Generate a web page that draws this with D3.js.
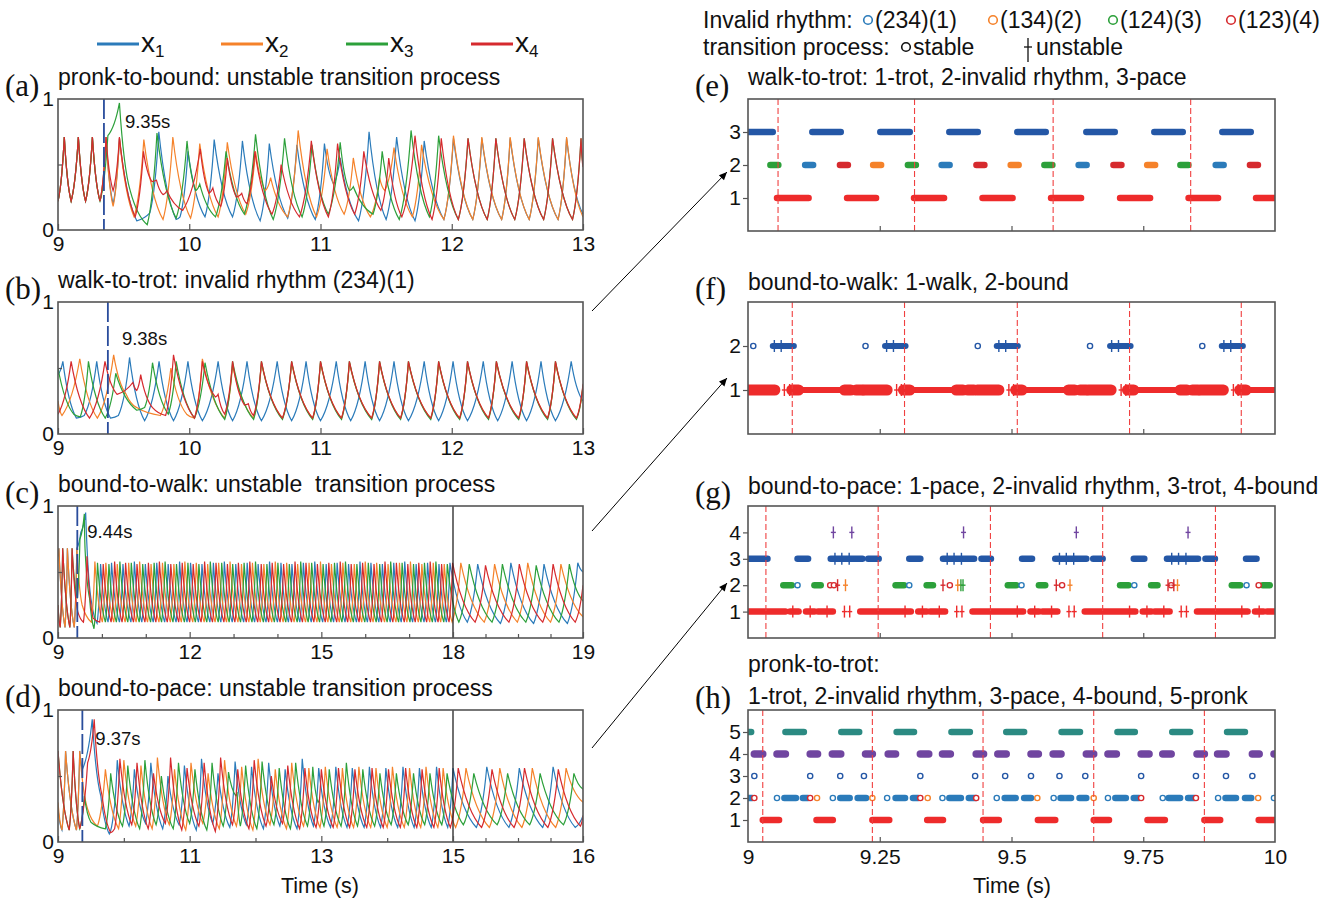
<!DOCTYPE html>
<html>
<head>
<meta charset="utf-8">
<script src="https://cdn.jsdelivr.net/npm/d3@7/dist/d3.min.js"></script>
<style>
  body { margin: 0; background: #fff; }
  svg text { font-family: "Liberation Sans", Arial, sans-serif; fill: #111; }
</style>
</head>
<body>
<svg id="chart" width="1343" height="903"></svg>
<script>
// ---------- data: oscillator outputs x1..x4, flat [t, v, t, v, ...] turning points ----------
var aPronk = [9.00,.22, 9.048,.71, 9.10,.22, 9.155,.71, 9.21,.22, 9.262,.71, 9.32,.22];
var a1 = [9.366,.71, 9.42,.20, 9.468,.70, 9.60,.07, 9.70,.13, 9.768,.75, 9.90,.08, 9.93,.10, 9.99,.60, 10.12,.10, 10.19,.69, 10.33,.10, 10.405,.68, 10.54,.07, 10.61,.66, 10.75,.09, 10.82,.65, 10.96,.08, 11.03,.66, 11.10,.35, 11.15,.55, 11.29,.07, 11.37,.75, 11.50,.08, 11.58,.71, 11.72,.07, 11.79,.68, 11.94,.08, 12.013,.70, 12.16,.08, 12.229,.70, 12.38,.08, 12.445,.70, 12.59,.08, 12.659,.70, 12.81,.08, 12.875,.70, 13.0,.12];
var a2 = [9.366,.71, 9.42,.18, 9.468,.70, 9.58,.10, 9.654,.69, 9.80,.08, 9.875,.71, 10.01,.09, 10.08,.66, 10.22,.10, 10.29,.67, 10.43,.12, 10.505,.60, 10.58,.30, 10.62,.40, 10.75,.10, 10.83,.76, 10.97,.10, 11.05,.62, 11.18,.12, 11.25,.55, 11.38,.10, 11.45,.40, 11.49,.30, 11.56,.63, 11.70,.10, 11.77,.65, 11.94,.08, 12.013,.72, 12.16,.08, 12.229,.71, 12.38,.08, 12.445,.71, 12.59,.08, 12.659,.71, 12.81,.08, 12.875,.71, 13.0,.10];
var a3 = [9.38,.72, 9.468,.97, 9.55,.30, 9.68,.04, 9.754,.74, 9.90,.09, 9.983,.68, 10.05,.30, 10.08,.35, 10.20,.10, 10.28,.60, 10.42,.12, 10.505,.73, 10.64,.08, 10.726,.70, 10.86,.10, 10.935,.65, 11.06,.12, 11.15,.67, 11.22,.30, 11.25,.33, 11.40,.12, 11.47,.60, 11.60,.08, 11.69,.76, 11.83,.10, 11.90,.72, 12.05,.08, 12.124,.70, 12.27,.08, 12.336,.70, 12.48,.08, 12.552,.70, 12.70,.08, 12.768,.70, 12.92,.08, 12.985,.70, 13.0,.50];
var a4 = [9.366,.71, 9.42,.30, 9.468,.71, 9.588,.10, 9.651,.60, 9.715,.37, 9.75,.38, 9.80,.27, 9.83,.30, 9.95,.15, 10.084,.62, 10.15,.28, 10.18,.32, 10.24,.18, 10.29,.55, 10.36,.25, 10.40,.28, 10.44,.20, 10.50,.60, 10.63,.12, 10.70,.50, 10.84,.10, 10.93,.68, 11.06,.10, 11.13,.66, 11.26,.12, 11.33,.60, 11.46,.15, 11.52,.55, 11.62,.10, 11.72,.72, 11.85,.08, 11.92,.70, 12.05,.08, 12.124,.70, 12.27,.08, 12.336,.70, 12.48,.08, 12.552,.70, 12.70,.08, 12.768,.70, 12.92,.08, 12.985,.70, 13.0,.48];

var b1 = [9.0,.45, 9.037,.55, 9.14,.12, 9.20,.14, 9.295,.55, 9.40,.12, 9.46,.14, 9.545,.58, 9.66,.10, 9.77,.55, 9.88,.10, 9.99,.55, 10.10,.10, 10.22,.55, 10.33,.10, 10.44,.55, 10.55,.10, 10.67,.55, 10.78,.10, 10.89,.55, 11.00,.10, 11.12,.55, 11.23,.10, 11.34,.55, 11.45,.10, 11.56,.55, 11.67,.10, 11.79,.55, 11.90,.10, 12.01,.55, 12.12,.10, 12.24,.55, 12.35,.10, 12.46,.55, 12.57,.10, 12.68,.55, 12.79,.10, 12.91,.55, 13.0,.25];
var b2 = [9.0,.25, 9.03,.14, 9.166,.57, 9.30,.12, 9.424,.60, 9.52,.30, 9.60,.20, 9.78,.14, 9.86,.50, 9.98,.15, 10.04,.12, 10.10,.57, 10.27,.12, 10.33,.52, 10.49,.12, 10.55,.54, 10.71,.12, 10.78,.54, 10.94,.12, 11.00,.54, 11.16,.12, 11.22,.54, 11.39,.12, 11.45,.54, 11.61,.12, 11.67,.54, 11.84,.12, 11.90,.54, 12.06,.12, 12.12,.54, 12.28,.12, 12.34,.54, 12.51,.12, 12.57,.54, 12.73,.12, 12.79,.54, 12.95,.12, 13.0,.36];
var b3 = [9.0,.50, 9.12,.15, 9.17,.13, 9.232,.55, 9.36,.12, 9.44,.46, 9.60,.18, 9.66,.20, 9.72,.54, 9.84,.15, 9.90,.55, 10.04,.12, 10.12,.54, 10.27,.11, 10.33,.55, 10.49,.11, 10.55,.55, 10.71,.11, 10.78,.55, 10.94,.11, 11.00,.55, 11.16,.11, 11.22,.55, 11.39,.11, 11.45,.55, 11.61,.11, 11.67,.55, 11.84,.11, 11.90,.55, 12.06,.11, 12.12,.55, 12.28,.11, 12.34,.55, 12.51,.11, 12.57,.55, 12.73,.11, 12.79,.55, 12.95,.11, 13.0,.37];
var b4 = [9.0,.15, 9.10,.55, 9.24,.12, 9.358,.55, 9.45,.30, 9.57,.39, 9.60,.33, 9.63,.45, 9.72,.20, 9.82,.14, 9.88,.60, 10.04,.12, 10.10,.55, 10.20,.28, 10.22,.30, 10.27,.15, 10.33,.55, 10.42,.22, 10.45,.23, 10.49,.14, 10.55,.55, 10.71,.12, 10.78,.55, 10.94,.12, 11.00,.55, 11.16,.12, 11.22,.55, 11.39,.12, 11.45,.55, 11.61,.12, 11.67,.55, 11.84,.12, 11.90,.55, 12.06,.12, 12.12,.55, 12.28,.12, 12.34,.55, 12.51,.12, 12.57,.55, 12.73,.12, 12.79,.55, 12.95,.12, 13.0,.38];

var c1 = [9.0,.62, 9.02,.68, 9.16,.08, 9.214,.68, 9.37,.08, 9.43,.68, 9.52,.80, 9.63,.95, 9.75,.30, 9.89,.11, 9.97,.56, 10.14,.12, 10.22,.57, 10.40,.12, 10.48,.56, 10.66,.12, 10.74,.58, 10.91,.12, 10.99,.56, 11.17,.12, 11.25,.57, 11.43,.12, 11.51,.56, 11.69,.12, 11.77,.58, 11.94,.12, 12.02,.57, 12.20,.12, 12.28,.56, 12.46,.12, 12.54,.57, 12.71,.12, 12.79,.58, 12.97,.12, 13.05,.56, 13.23,.12, 13.31,.57, 13.48,.12, 13.56,.56, 13.74,.12, 13.82,.58, 14.00,.12, 14.08,.57, 14.25,.12, 14.33,.56, 14.51,.12, 14.59,.57, 14.77,.12, 14.85,.58, 15.03,.12, 15.11,.56, 15.28,.12, 15.36,.57, 15.54,.12, 15.62,.56, 15.80,.12, 15.88,.58, 16.05,.12, 16.13,.57, 16.31,.12, 16.39,.56, 16.57,.12, 16.65,.57, 16.82,.12, 16.90,.58, 17.08,.12, 17.16,.56, 17.34,.12, 17.42,.57, 17.60,.12, 17.68,.56, 17.85,.12, 17.93,.57, 18.11,.12, 18.19,.56, 18.365,.11, 18.445,.57, 18.62,.11, 18.70,.56, 18.88,.11, 18.96,.57, 19.0,.50];
var c2 = [9.0,.62, 9.02,.68, 9.16,.08, 9.214,.68, 9.37,.08, 9.43,.68, 9.55,.25, 9.76,.12, 9.84,.58, 10.01,.12, 10.09,.57, 10.27,.12, 10.35,.56, 10.53,.12, 10.61,.57, 10.78,.12, 10.86,.58, 11.04,.12, 11.12,.56, 11.30,.12, 11.38,.57, 11.56,.12, 11.64,.56, 11.81,.12, 11.89,.58, 12.07,.12, 12.15,.57, 12.33,.12, 12.41,.56, 12.58,.12, 12.66,.57, 12.84,.12, 12.92,.58, 13.10,.12, 13.18,.56, 13.35,.12, 13.43,.57, 13.61,.12, 13.69,.56, 13.87,.12, 13.95,.58, 14.13,.12, 14.21,.57, 14.38,.12, 14.46,.56, 14.64,.12, 14.72,.57, 14.90,.12, 14.98,.58, 15.15,.12, 15.23,.56, 15.41,.12, 15.49,.57, 15.67,.12, 15.75,.56, 15.92,.12, 16.00,.58, 16.18,.12, 16.26,.57, 16.44,.12, 16.52,.56, 16.70,.12, 16.78,.57, 16.95,.12, 17.03,.58, 17.21,.12, 17.29,.56, 17.47,.12, 17.55,.57, 17.72,.12, 17.80,.56, 17.98,.12, 18.06,.57, 18.24,.12, 18.32,.56, 18.495,.12, 18.575,.57, 18.75,.12, 18.83,.56, 19.0,.16];
var c3 = [9.0,.25, 9.05,.08, 9.107,.68, 9.27,.08, 9.321,.68, 9.44,.30, 9.50,.75, 9.60,.94, 9.62,.65, 9.72,.30, 9.82,.07, 9.90,.57, 10.08,.12, 10.16,.56, 10.33,.12, 10.41,.58, 10.59,.12, 10.67,.57, 10.85,.12, 10.93,.56, 11.11,.12, 11.19,.57, 11.36,.12, 11.44,.58, 11.62,.12, 11.70,.56, 11.88,.12, 11.96,.57, 12.13,.12, 12.21,.56, 12.39,.12, 12.47,.58, 12.65,.12, 12.73,.57, 12.90,.12, 12.98,.56, 13.16,.12, 13.24,.57, 13.42,.12, 13.50,.58, 13.68,.12, 13.76,.56, 13.93,.12, 14.01,.57, 14.19,.12, 14.27,.56, 14.45,.12, 14.53,.58, 14.70,.12, 14.78,.57, 14.96,.12, 15.04,.56, 15.22,.12, 15.30,.57, 15.47,.12, 15.55,.58, 15.73,.12, 15.81,.56, 15.99,.12, 16.07,.57, 16.25,.12, 16.33,.56, 16.50,.12, 16.58,.58, 16.76,.12, 16.84,.57, 17.02,.12, 17.10,.56, 17.27,.12, 17.35,.57, 17.53,.12, 17.61,.58, 17.79,.12, 17.87,.56, 18.045,.12, 18.125,.56, 18.30,.12, 18.38,.56, 18.56,.12, 18.64,.55, 18.815,.12, 18.895,.56, 19.0,.28];
var c4 = [9.0,.25, 9.05,.08, 9.107,.68, 9.27,.08, 9.321,.68, 9.45,.20, 9.58,.12, 9.66,.62, 9.80,.15, 9.95,.12, 10.03,.56, 10.21,.12, 10.29,.58, 10.46,.12, 10.54,.57, 10.72,.12, 10.80,.56, 10.98,.12, 11.06,.57, 11.23,.12, 11.31,.58, 11.49,.12, 11.57,.56, 11.75,.12, 11.83,.57, 12.00,.12, 12.08,.56, 12.26,.12, 12.34,.58, 12.52,.12, 12.60,.57, 12.78,.12, 12.86,.56, 13.03,.12, 13.11,.57, 13.29,.12, 13.37,.58, 13.55,.12, 13.63,.56, 13.80,.12, 13.88,.57, 14.06,.12, 14.14,.56, 14.32,.12, 14.40,.58, 14.57,.12, 14.65,.57, 14.83,.12, 14.91,.56, 15.09,.12, 15.17,.57, 15.35,.12, 15.43,.58, 15.60,.12, 15.68,.56, 15.86,.12, 15.94,.57, 16.12,.12, 16.20,.56, 16.37,.12, 16.45,.58, 16.63,.12, 16.71,.57, 16.89,.12, 16.97,.56, 17.14,.12, 17.22,.57, 17.40,.12, 17.48,.58, 17.66,.12, 17.74,.56, 17.91,.12, 17.99,.57, 18.17,.12, 18.25,.55, 18.43,.12, 18.51,.56, 18.69,.12, 18.77,.56, 18.94,.12, 19.0,.40];

var dX1 = [9.0,.25, 9.06,.09, 9.115,.69, 9.28,.09, 9.33,.69, 9.37,.55, 9.52,.93, 9.65,.35, 9.78,.06, 9.84,.20, 9.90,.62, 10.08,.12, 10.16,.55, 10.33,.14, 10.41,.60, 10.59,.10, 10.67,.50, 10.84,.13, 10.92,.58, 11.10,.09, 11.18,.63, 11.35,.14, 11.43,.52, 11.61,.11, 11.69,.61, 11.86,.13, 11.94,.57, 12.12,.10, 12.20,.60, 12.37,.12, 12.45,.55, 12.63,.10, 12.71,.63, 12.88,.12, 12.96,.56, 13.14,.11, 13.22,.57, 13.39,.11, 13.47,.56, 13.65,.11, 13.73,.57, 13.90,.11, 13.98,.56, 14.16,.11, 14.24,.57, 14.41,.11, 14.49,.56, 14.67,.11, 14.75,.57, 14.92,.11, 15.00,.56, 15.18,.11, 15.26,.57, 15.43,.11, 15.51,.56, 15.69,.11, 15.77,.57, 15.94,.11, 16.0,.20];
var dX2 = [9.0,.30, 9.06,.09, 9.115,.69, 9.28,.09, 9.33,.69, 9.45,.25, 9.60,.12, 9.72,.55, 9.92,.10, 10.00,.62, 10.18,.12, 10.26,.58, 10.43,.10, 10.51,.64, 10.69,.13, 10.77,.55, 10.94,.09, 11.02,.60, 11.20,.14, 11.28,.52, 11.45,.10, 11.53,.62, 11.71,.12, 11.79,.57, 11.96,.09, 12.04,.63, 12.22,.13, 12.30,.55, 12.47,.10, 12.55,.60, 12.73,.12, 12.81,.56, 12.98,.11, 13.06,.57, 13.24,.11, 13.32,.56, 13.49,.11, 13.57,.57, 13.75,.11, 13.83,.56, 14.00,.11, 14.08,.57, 14.26,.11, 14.34,.56, 14.51,.11, 14.59,.57, 14.77,.11, 14.85,.56, 15.02,.11, 15.10,.56, 15.28,.11, 15.36,.56, 15.53,.11, 15.61,.56, 15.79,.11, 15.87,.56, 16.0,.30];
var dX3 = [9.0,.69, 9.17,.09, 9.23,.69, 9.33,.10, 9.40,.35, 9.50,.15, 9.72,.10, 9.80,.52, 9.98,.12, 10.06,.58, 10.24,.10, 10.32,.62, 10.49,.13, 10.57,.50, 10.75,.10, 10.83,.60, 11.00,.14, 11.08,.55, 11.26,.09, 11.34,.60, 11.51,.12, 11.59,.53, 11.70,.35, 11.72,.38, 11.77,.12, 11.85,.58, 12.02,.10, 12.10,.61, 12.28,.13, 12.36,.56, 12.53,.10, 12.61,.60, 12.79,.12, 12.87,.57, 12.95,.30, 12.97,.32, 13.04,.12, 13.12,.55, 13.30,.12, 13.38,.60, 13.55,.12, 13.63,.55, 13.81,.12, 13.89,.52, 14.06,.13, 14.14,.52, 14.32,.13, 14.40,.52, 14.57,.13, 14.65,.52, 14.83,.13, 14.91,.52, 15.08,.13, 15.16,.52, 15.34,.13, 15.42,.52, 15.59,.13, 15.67,.52, 15.85,.13, 15.93,.52, 16.0,.40];
var dX4 = [9.0,.69, 9.17,.09, 9.23,.69, 9.33,.10, 9.45,.60, 9.55,.93, 9.67,.35, 9.80,.07, 9.86,.10, 9.94,.63, 10.12,.13, 10.20,.60, 10.37,.10, 10.45,.52, 10.63,.14, 10.71,.64, 10.88,.09, 10.96,.56, 11.14,.12, 11.22,.60, 11.39,.08, 11.47,.64, 11.65,.13, 11.73,.55, 11.90,.10, 11.98,.62, 12.16,.12, 12.24,.50, 12.41,.14, 12.49,.58, 12.67,.10, 12.75,.56, 12.92,.11, 13.00,.55, 13.18,.11, 13.26,.56, 13.43,.11, 13.51,.55, 13.69,.11, 13.77,.56, 13.94,.11, 14.02,.55, 14.20,.11, 14.28,.56, 14.45,.11, 14.53,.55, 14.71,.11, 14.79,.56, 14.96,.11, 15.04,.56, 15.22,.11, 15.30,.55, 15.47,.11, 15.55,.56, 15.73,.11, 15.81,.55, 15.98,.12, 16.0,.20];

// switch times (s)
var switchTimes = [9.35, 9.38, 9.44, 9.37];

// ---------- data: gait classification panels (time intervals / instants, level) ----------
var eSwitch = [9.057, 9.316, 9.579, 9.840];
var ePace = [[9.000,9.047],[9.122,9.176],[9.251,9.307],[9.382,9.436],[9.511,9.565],[9.642,9.696],[9.771,9.825],[9.900,9.954]];
var eTrot = [[9.055,9.115],[9.188,9.243],[9.315,9.372],[9.445,9.502],[9.575,9.632],[9.706,9.763],[9.836,9.892],[9.964,10.0]];
var eInv1 = [9.116, 9.375, 9.635, 9.895];
var eInv2 = [9.245, 9.506, 9.765];
var eInv3 = [9.050, 9.311, 9.570, 9.828];
var eInv4 = [9.182, 9.441, 9.701, 9.960];

var fSwitch = [9.084, 9.297, 9.511, 9.724, 9.936];
var fBoundRing = [9.010, 9.223, 9.436, 9.649, 9.862];
var fBound = [[9.047,9.087],[9.260,9.299],[9.472,9.512],[9.687,9.726],[9.899,9.939]];
var fBoundTick = [9.050, 9.063, 9.263, 9.276, 9.476, 9.489, 9.690, 9.703, 9.903, 9.916];
var fWalk = [[9.0,9.051],[9.083,9.264],[9.295,9.477],[9.508,9.689],[9.720,9.902],[9.933,10.0]];
var fWalkBlock = [[9.0,9.051],[9.083,9.096],[9.183,9.195],[9.205,9.217],[9.220,9.264],[9.295,9.307],[9.395,9.408],[9.417,9.429],[9.435,9.476],[9.508,9.520],[9.608,9.620],[9.630,9.642],[9.646,9.689],[9.720,9.732],[9.820,9.833],[9.843,9.854],[9.858,9.902],[9.933,9.945]];
var fWalkTick = [9.069, 9.079, 9.282, 9.291, 9.495, 9.504, 9.708, 9.717, 9.921, 9.930];

var gSwitch = [9.034, 9.247, 9.460, 9.673, 9.887];
var gBoundTick = [9.162, 9.197, 9.409, 9.623, 9.835];
var gTrot = [[9.0,9.037],[9.094,9.114],[9.157,9.217],[9.228,9.248],[9.306,9.327],[9.370,9.429],[9.443,9.461],[9.520,9.539],[9.583,9.642],[9.655,9.673],[9.732,9.752],[9.795,9.854],[9.868,9.886],[9.945,9.965]];
var gTrotTick = [9.165, 9.178, 9.192, 9.378, 9.391, 9.405, 9.591, 9.604, 9.618, 9.804, 9.817, 9.831];
var gInv3 = [[9.067,9.083],[9.126,9.138],[9.280,9.296],[9.339,9.351],[9.493,9.509],[9.552,9.564],[9.706,9.722],[9.765,9.777],[9.918,9.934],[9.977,9.990]];
var gInv1Ring = [9.094, 9.306, 9.519, 9.733, 9.946];
var gInv4Ring = [9.156, 9.163, 9.383, 9.596, 9.803, 9.969];
var gInv4Tick = [9.170, 9.370, 9.585, 9.797, 9.808];
var gInv2Tick = [9.185, 9.398, 9.611, 9.815];
var gInv3Tick = [9.404, 9.408];
var gPace = [[9.0,9.071],[9.080,9.096],[9.110,9.126],[9.133,9.161],[9.213,9.309],[9.323,9.339],[9.346,9.374],[9.426,9.522],[9.536,9.552],[9.559,9.587],[9.639,9.735],[9.749,9.765],[9.772,9.800],[9.852,9.948],[9.962,9.978],[9.985,10.0]];
var gPaceTick = [9.085, 9.118, 9.150, 9.183, 9.193, 9.298, 9.331, 9.363, 9.396, 9.406, 9.511, 9.544, 9.576, 9.609, 9.619, 9.724, 9.757, 9.789, 9.822, 9.832, 9.937, 9.970];

var hSwitch = [9.028, 9.236, 9.446, 9.656, 9.866];
var hPronk = [[9.0,9.006],[9.071,9.106],[9.177,9.211],[9.282,9.315],[9.386,9.421],[9.490,9.524],[9.595,9.630],[9.701,9.734],[9.805,9.839],[9.909,9.943]];
var hBound = [[9.012,9.028],[9.055,9.071],[9.118,9.132],[9.160,9.176],[9.223,9.236],[9.266,9.280],[9.327,9.343],[9.369,9.384],[9.433,9.447],[9.474,9.490],[9.537,9.551],[9.579,9.594],[9.642,9.656],[9.683,9.699],[9.746,9.761],[9.787,9.803],[9.852,9.866],[9.891,9.907],[9.957,9.970],[9.998,10.0]];
var hPaceRing = [9.012, 9.118, 9.175, 9.220, 9.327, 9.431, 9.488, 9.537, 9.591, 9.640, 9.746, 9.850, 9.907, 9.957];
var hInv1 = [[9.0,9.008],[9.069,9.091],[9.104,9.114],[9.175,9.193],[9.208,9.224],[9.280,9.298],[9.313,9.323],[9.382,9.404],[9.419,9.432],[9.487,9.508],[9.524,9.537],[9.593,9.613],[9.629,9.642],[9.697,9.717],[9.732,9.742],[9.798,9.820],[9.835,9.847],[9.906,9.926],[9.943,9.955]];
var hInv1Ring = [9.055, 9.161, 9.264, 9.369, 9.472, 9.580, 9.683, 9.787, 9.892, 9.998];
var hInv4Ring = [9.012, 9.118, 9.327, 9.433, 9.746, 9.850];
var hInv2Ring = [9.131, 9.236, 9.341, 9.549, 9.656, 9.968];
var hTrot = [[9.028,9.059],[9.130,9.161],[9.236,9.268],[9.340,9.370],[9.446,9.476],[9.550,9.583],[9.656,9.685],[9.758,9.791],[9.866,9.896],[9.969,10.0]];

// ---------- styling ----------
var COLS = ['#2b7bba', '#f5822a', '#2ca03a', '#d62a2e'];
var DARKBLUE = '#2457a6', TRED = '#ee2b2b', TEAL = '#2b8a82', PURPLE = '#7045a0';
var FRAME = '#555';

var svg = d3.select('#chart');
var defs = svg.append('defs');

function pairs(a) {
  var r = [];
  for (var i = 0; i < a.length; i += 2) r.push([a[i], a[i + 1]]);
  return r;
}

// curve through turning points: sharp peaks, gently concave rise/decay
function FinCurve(context) { this._context = context; }
FinCurve.prototype = {
  areaStart: function() {}, areaEnd: function() {},
  lineStart: function() { this._point = 0; },
  lineEnd: function() {},
  point: function(x, y) {
    x = +x; y = +y;
    if (this._point === 0) {
      this._point = 1;
      this._context.moveTo(x, y);
    } else {
      var hx = y > this._y0 ? this._x0 : x;
      var lx = y > this._y0 ? x : this._x0;
      var ly = Math.max(y, this._y0);
      var cx = hx + 0.3 * (lx - hx), mx = (x + this._x0) / 2, my = (y + this._y0) / 2;
      this._context.quadraticCurveTo(mx + 0.5 * (cx - mx), my + 0.5 * (ly - my), x, y);
    }
    this._x0 = x; this._y0 = y;
  }
};
function finCurve(context) { return new FinCurve(context); }

function styleAxis(g, size) {
  g.select('.domain').remove();
  g.selectAll('line').attr('stroke', FRAME).attr('stroke-width', 1.2);
  g.selectAll('text').attr('font-family', '"Liberation Sans", Arial, sans-serif').attr('font-size', size).attr('fill', '#111');
}

// ---------- left panels: time series ----------
function leftPanel(p) {
  var x = d3.scaleLinear().domain(p.dom).range(p.dom.length === 3 ? [58, 453, 583] : [58, 583]);
  var y = d3.scaleLinear().domain([0, 1]).range([p.bottom, p.top]);
  var g = svg.append('g');

  defs.append('clipPath').attr('id', 'clip' + p.key)
    .append('rect').attr('x', 58).attr('y', p.top).attr('width', 525).attr('height', p.bottom - p.top);

  var line = d3.line().curve(finCurve).x(function(d){ return x(d[0]); }).y(function(d){ return y(d[1]); });
  var plot = g.append('g').attr('clip-path', 'url(#clip' + p.key + ')');
  p.series.forEach(function(s, i){
    plot.append('path').attr('d', line(pairs(s)))
      .attr('fill', 'none').attr('stroke', COLS[i]).attr('stroke-width', 1.2);
  });

  if (p.brk) {
    g.append('line').attr('x1', x(p.brk)).attr('x2', x(p.brk)).attr('y1', p.top).attr('y2', p.bottom)
      .attr('stroke', '#222').attr('stroke-width', 1.3);
  }

  // switching instant
  var sx = x(p.sw);
  g.append('line').attr('x1', sx).attr('x2', sx).attr('y1', p.top).attr('y2', p.bottom)
    .attr('stroke', '#2a4d9c').attr('stroke-width', 1.8).attr('stroke-dasharray', '20,4');
  g.append('text').attr('x', sx + p.lab[0]).attr('y', p.top + p.lab[1]).attr('font-size', 18.5)
    .text(d3.format('.2f')(p.sw) + 's');

  g.append('rect').attr('x', 58).attr('y', p.top).attr('width', 525).attr('height', p.bottom - p.top)
    .attr('fill', 'none').attr('stroke', FRAME).attr('stroke-width', 1.6);

  var xa = g.append('g').attr('transform', 'translate(0,' + p.bottom + ')')
    .call(d3.axisBottom(x).tickValues(p.major).tickSize(-6).tickPadding(6).tickFormat(d3.format('d')));
  styleAxis(xa, 21);
  if (p.minor) {
    var xm = g.append('g').attr('transform', 'translate(0,' + p.bottom + ')')
      .call(d3.axisBottom(x).tickValues(p.minor).tickSize(-4).tickFormat(''));
    styleAxis(xm, 21);
  }
  var ya = g.append('g').attr('transform', 'translate(58,0)')
    .call(d3.axisLeft(y).tickValues([0, 1]).tickSize(0).tickPadding(4).tickFormat(d3.format('d')));
  styleAxis(ya, 21);
  var ym = g.append('g').attr('transform', 'translate(58,0)')
    .call(d3.axisLeft(y).tickValues([0.5]).tickSize(-4).tickFormat(''));
  styleAxis(ym, 21);

  svg.append('text').attr('x', 5).attr('y', p.top - 3).attr('font-size', 31)
    .style('font-family', '"Liberation Serif", "Times New Roman", serif').text(p.letter);
  svg.append('text').attr('x', 58).attr('y', p.top - 14).attr('font-size', 23)
    .style('white-space', 'pre').text(p.title);
}

leftPanel({key: 'a', letter: '(a)', title: 'pronk-to-bound: unstable transition process', top: 99, bottom: 230,
  dom: [9, 13], series: [aPronk.concat(a1), aPronk.concat(a2), aPronk.concat(a3), aPronk.concat(a4)],
  sw: switchTimes[0], lab: [21, 29], major: [9, 10, 11, 12, 13]});
leftPanel({key: 'b', letter: '(b)', title: 'walk-to-trot: invalid rhythm (234)(1)', top: 302, bottom: 434,
  dom: [9, 13], series: [b1, b2, b3, b4],
  sw: switchTimes[1], lab: [14, 43], major: [9, 10, 11, 12, 13]});
leftPanel({key: 'c', letter: '(c)', title: 'bound-to-walk: unstable  transition process', top: 506, bottom: 638,
  dom: [9, 18, 19], series: [c1, c2, c3, c4], brk: 18,
  sw: switchTimes[2], lab: [10, 32], major: [9, 12, 15, 18, 19], minor: [10, 11, 13, 14, 16, 17, 18.25, 18.5, 18.75]});
leftPanel({key: 'd', letter: '(d)', title: 'bound-to-pace: unstable transition process', top: 710, bottom: 842,
  dom: [9, 15, 16], series: [dX1, dX2, dX3, dX4], brk: 15,
  sw: switchTimes[3], lab: [13, 35], major: [9, 11, 13, 15, 16], minor: [10, 12, 14, 15.25, 15.5, 15.75]});

// ---------- right panels: gait classification ----------
function rightPanel(p) {
  var x = d3.scaleLinear().domain([9, 10]).range([748, 1275]);
  var y = d3.scaleLinear().domain([0, p.levels]).range([p.bottom, p.top]);
  var g = svg.append('g');
  defs.append('clipPath').attr('id', 'clip' + p.key)
    .append('rect').attr('x', 748).attr('y', p.top).attr('width', 527).attr('height', p.bottom - p.top);
  var plot = g.append('g').attr('clip-path', 'url(#clip' + p.key + ')');

  p.draw(plot, x, y);

  p.sw.forEach(function(t){
    plot.append('line').attr('x1', x(t)).attr('x2', x(t)).attr('y1', p.top).attr('y2', p.bottom)
      .attr('stroke', '#f04040').attr('stroke-width', 1.1).attr('stroke-dasharray', '6,3');
  });

  g.append('rect').attr('x', 748).attr('y', p.top).attr('width', 527).attr('height', p.bottom - p.top)
    .attr('fill', 'none').attr('stroke', FRAME).attr('stroke-width', 1.6);

  var xa = g.append('g').attr('transform', 'translate(0,' + p.bottom + ')')
    .call(d3.axisBottom(x).tickValues([9.25, 9.5, 9.75]).tickSize(-5).tickFormat(''));
  styleAxis(xa, 21);
  if (p.labels) {
    var xl = g.append('g').attr('transform', 'translate(0,' + p.bottom + ')')
      .call(d3.axisBottom(x).tickValues([9, 9.25, 9.5, 9.75, 10]).tickSize(0).tickPadding(7).tickFormat(function(d){ return String(d); }));
    styleAxis(xl, 21);
  }
  var ya = g.append('g').attr('transform', 'translate(748,0)')
    .call(d3.axisLeft(y).tickValues(d3.range(1, p.levels)).tickSize(5).tickPadding(2).tickFormat(d3.format('d')));
  styleAxis(ya, 21);

  svg.append('text').attr('x', 695).attr('y', p.letterY).attr('font-size', 31)
    .style('font-family', '"Liberation Serif", "Times New Roman", serif').text(p.letter);
  p.title.forEach(function(t, i){
    svg.append('text').attr('x', 748).attr('y', p.titleY[i]).attr('font-size', 23).text(t);
  });
}

function segs(g, x, y, data, lvl, col, w) {
  g.selectAll(null).data(data).enter().append('line')
    .attr('x1', function(d){ return x(d[0]); }).attr('x2', function(d){ return x(d[1]); })
    .attr('y1', y(lvl)).attr('y2', y(lvl))
    .attr('stroke', col).attr('stroke-width', w).attr('stroke-linecap', 'round');
}
function dots(g, x, y, data, lvl, col, w) {
  g.selectAll(null).data(data).enter().append('line')
    .attr('x1', function(d){ return x(d) - 4; }).attr('x2', function(d){ return x(d) + 4; })
    .attr('y1', y(lvl)).attr('y2', y(lvl))
    .attr('stroke', col).attr('stroke-width', w).attr('stroke-linecap', 'round');
}
function rings(g, x, y, data, lvl, col) {
  g.selectAll(null).data(data).enter().append('circle')
    .attr('cx', function(d){ return x(d); }).attr('cy', y(lvl)).attr('r', 2.6)
    .attr('fill', '#fff').attr('stroke', col).attr('stroke-width', 1.4);
}
function crosses(g, x, y, data, lvl, col, h) {
  var m = g.selectAll(null).data(data).enter().append('g')
    .attr('transform', function(d){ return 'translate(' + x(d) + ',' + y(lvl) + ')'; });
  m.append('line').attr('y1', -h / 2).attr('y2', h / 2).attr('stroke', col).attr('stroke-width', 1.4);
  m.append('line').attr('x1', -2.5).attr('x2', 2.5).attr('stroke', col).attr('stroke-width', 1.4);
}

rightPanel({key: 'e', letter: '(e)', letterY: 96, title: ['walk-to-trot: 1-trot, 2-invalid rhythm, 3-pace'], titleY: [85],
  top: 99, bottom: 231, levels: 4, sw: eSwitch,
  draw: function(g, x, y){
    segs(g, x, y, ePace, 3, DARKBLUE, 6.5);
    dots(g, x, y, eInv1, 2, COLS[0], 6.5);
    dots(g, x, y, eInv2, 2, COLS[1], 6.5);
    dots(g, x, y, eInv3, 2, COLS[2], 6.5);
    dots(g, x, y, eInv4, 2, COLS[3], 6.5);
    segs(g, x, y, eTrot, 1, TRED, 6.5);
  }});

rightPanel({key: 'f', letter: '(f)', letterY: 299, title: ['bound-to-walk: 1-walk, 2-bound'], titleY: [290],
  top: 302, bottom: 434, levels: 3, sw: fSwitch,
  draw: function(g, x, y){
    rings(g, x, y, fBoundRing, 2, DARKBLUE);
    segs(g, x, y, fBound, 2, DARKBLUE, 6);
    crosses(g, x, y, fBoundTick, 2, DARKBLUE, 12);
    segs(g, x, y, fWalk, 1, TRED, 6);
    segs(g, x, y, fWalkBlock, 1, TRED, 11);
    crosses(g, x, y, fWalkTick, 1, TRED, 12);
  }});

rightPanel({key: 'g', letter: '(g)', letterY: 503, title: ['bound-to-pace: 1-pace, 2-invalid rhythm, 3-trot, 4-bound'], titleY: [494],
  top: 506, bottom: 638, levels: 5, sw: gSwitch,
  draw: function(g, x, y){
    crosses(g, x, y, gBoundTick, 4, PURPLE, 12);
    segs(g, x, y, gTrot, 3, DARKBLUE, 6.5);
    crosses(g, x, y, gTrotTick, 3, DARKBLUE, 12);
    segs(g, x, y, gInv3, 2, COLS[2], 6.5);
    rings(g, x, y, gInv1Ring, 2, COLS[0]);
    rings(g, x, y, gInv4Ring, 2, COLS[3]);
    crosses(g, x, y, gInv3Tick, 2, COLS[2], 12);
    crosses(g, x, y, gInv4Tick, 2, COLS[3], 12);
    crosses(g, x, y, gInv2Tick, 2, COLS[1], 12);
    segs(g, x, y, gPace, 1, TRED, 6.5);
    crosses(g, x, y, gPaceTick, 1, TRED, 12);
  }});

rightPanel({key: 'h', letter: '(h)', letterY: 708, title: ['pronk-to-trot:', '1-trot, 2-invalid rhythm, 3-pace, 4-bound, 5-pronk'], titleY: [672, 704],
  top: 710, bottom: 842, levels: 6, sw: hSwitch, labels: true,
  draw: function(g, x, y){
    segs(g, x, y, hPronk, 5, TEAL, 6.5);
    segs(g, x, y, hBound, 4, PURPLE, 7.5);
    rings(g, x, y, hPaceRing, 3, DARKBLUE);
    segs(g, x, y, hInv1, 2, COLS[0], 6.5);
    rings(g, x, y, hInv1Ring, 2, COLS[0]);
    rings(g, x, y, hInv4Ring, 2, COLS[3]);
    rings(g, x, y, hInv2Ring, 2, COLS[1]);
    segs(g, x, y, hTrot, 1, TRED, 6.5);
  }});

// ---------- legends ----------
var legX = [97, 221, 346, 471];
COLS.forEach(function(c, i){
  svg.append('line').attr('x1', legX[i]).attr('x2', legX[i] + 42).attr('y1', 44).attr('y2', 44)
    .attr('stroke', c).attr('stroke-width', 3);
  var t = svg.append('text').attr('x', legX[i] + 44).attr('y', 52).attr('font-size', 28);
  t.append('tspan').text('x');
  t.append('tspan').attr('font-size', 17).attr('dy', 5).text(i + 1);
});

var invLabels = ['(234)(1)', '(134)(2)', '(124)(3)', '(123)(4)'];
var invX = [868, 993, 1113, 1231];
svg.append('text').attr('x', 703).attr('y', 28).attr('font-size', 23).text('Invalid rhythm:');
invLabels.forEach(function(l, i){
  svg.append('circle').attr('cx', invX[i]).attr('cy', 20).attr('r', 4.3)
    .attr('fill', 'none').attr('stroke', COLS[i]).attr('stroke-width', 1.6);
  svg.append('text').attr('x', invX[i] + 7).attr('y', 28).attr('font-size', 23).text(l);
});
svg.append('text').attr('x', 703).attr('y', 55).attr('font-size', 23).text('transition process:');
svg.append('circle').attr('cx', 906).attr('cy', 47).attr('r', 4.3)
  .attr('fill', 'none').attr('stroke', '#111').attr('stroke-width', 1.6);
svg.append('text').attr('x', 913).attr('y', 55).attr('font-size', 23).text('stable');
svg.append('line').attr('x1', 1028).attr('x2', 1028).attr('y1', 38).attr('y2', 62).attr('stroke', '#111').attr('stroke-width', 1.3);
svg.append('line').attr('x1', 1024).attr('x2', 1032).attr('y1', 47).attr('y2', 47).attr('stroke', '#111').attr('stroke-width', 1.3);
svg.append('text').attr('x', 1036).attr('y', 55).attr('font-size', 23).text('unstable');

// axis titles
svg.append('text').attr('x', 320).attr('y', 893).attr('font-size', 21.5).attr('text-anchor', 'middle').text('Time (s)');
svg.append('text').attr('x', 1012).attr('y', 893).attr('font-size', 21.5).attr('text-anchor', 'middle').text('Time (s)');

// ---------- arrows linking panels ----------
defs.append('marker').attr('id', 'arr').attr('viewBox', '0 0 10 10').attr('refX', 10).attr('refY', 5)
  .attr('markerWidth', 10).attr('markerHeight', 8).attr('orient', 'auto')
  .append('path').attr('d', 'M0,0.5 L10,5 L0,9.5 Z').attr('fill', '#000');
var arrows = [[592, 311, 727, 172], [592, 531, 727, 378], [592, 748, 727, 583]];
arrows.forEach(function(a){
  svg.append('line').attr('x1', a[0]).attr('y1', a[1]).attr('x2', a[2]).attr('y2', a[3])
    .attr('stroke', '#000').attr('stroke-width', 1).attr('marker-end', 'url(#arr)');
});
</script>
</body>
</html>
